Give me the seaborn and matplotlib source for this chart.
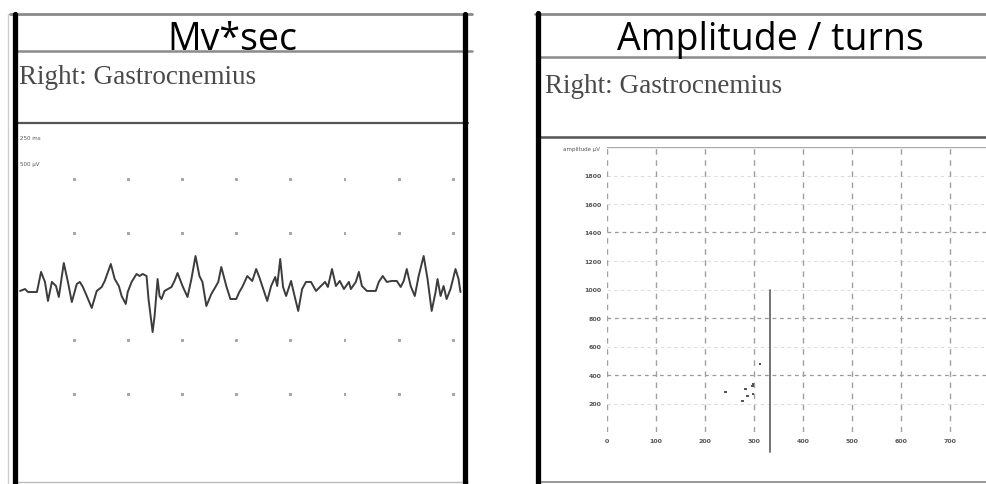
import numpy as np
import pandas as pd
import matplotlib
matplotlib.use("Agg")
import matplotlib.pyplot as plt
from matplotlib.lines import Line2D
import seaborn as sns

# ---------------- data ----------------
# Left panel: EMG trace (time in ms, amplitude in µV)
trace_t = [0, 23, 37, 78, 97, 115, 129, 147, 166, 179, 202, 221, 239, 262, 276, 290, 308, 331,
           354, 377, 391, 419, 437, 456, 469, 488,
           497, 515, 538, 552, 566, 584, 593, 612, 621, 635, 644, 653, 667, 699, 713, 727, 750,
           773, 791, 810, 828, 842, 860, 883, 902, 915, 929, 952, 971, 998,
           1012, 1026, 1049, 1072, 1090, 1104, 1118, 1141, 1159, 1178, 1187, 1201, 1214, 1228,
           1251, 1265, 1284, 1302, 1320, 1343, 1366, 1389, 1408, 1421, 1440, 1458, 1476, 1495,
           1518, 1527, 1550, 1564, 1578, 1601, 1642, 1656, 1674, 1693, 1716, 1739, 1757, 1771,
           1785, 1803, 1822, 1840, 1863, 1881, 1900, 1918, 1927, 1941, 1955, 1969, 1987, 2010,
           2024, 2033]
trace_uv = [-37, -19, -47, -47, 140, 47, -130, 47, 9, -93, 223, 47, -140, 28, 47, 0, -84, -195,
            -37, 0, 56, 214, 74, 9, -84, -158,
            -47, 47, 121, 102, 121, 102, -112, -419, -270, 74, -84, -112, -37, 0, 56, 130, 9,
            -93, 74, 288, 102, 47, -177, -65, 0, 47, 186, 9, -112, -112,
            -47, 0, 102, 56, 167, 93, 9, -130, 9, 93, 9, 260, 0, -84,
            56, -65, -223, -19, 47, 47, -37, 9, 47, 0, 167, 9, 56, -19,
            47, -19, 47, 140, 9, -37, -37, 47, 102, 47, 56, 56, 0, 56,
            167, 9, -84, 102, 288, 74, -223, -47, 74, -84, 9, -112, -19, 167,
            74, -47]
grid_t = [250, 500, 750, 1000, 1250, 1500, 1750, 2000]
grid_uv = [1000, 500, -500, -1000]
sweep_label = "250 ms"
gain_label = "500 µV"

# Right panel: amplitude vs turns
turns_x = [241, 282, 286, 296, 298, 276, 312, 298]
amp_y = [281, 302, 253, 323, 267, 218, 477, 337]
mean_line_x = 333
mean_line_top = 1000
mean_line_bottom = -140
x_ticks = [0, 100, 200, 300, 400, 500, 600, 700]
y_ticks = [200, 400, 600, 800, 1000, 1200, 1400, 1600, 1800]
emphasized_levels = [400, 800, 1400]

left_title = "Mv*sec"
right_title = "Amplitude / turns"
muscle = "Right: Gastrocnemius"
y_axis_title = "amplitude µV"

# ---------------- figure ----------------
sns.set_style("white")
plt.rcParams['font.family'] = ['DejaVu Sans']

W, H = 986, 485
fig = plt.figure(figsize=(W / 100, H / 100), dpi=100)

def fx(px):
    return px / W

def fy(py):
    return 1 - py / H

def hline(y, x0, x1, color="#8a8a8a", lw=1.6):
    fig.add_artist(Line2D([fx(x0), fx(x1)], [fy(y), fy(y)], color=color, lw=lw))

def vline(x, y0, y1, color="black", lw=3.8):
    fig.add_artist(Line2D([fx(x), fx(x)], [fy(y0), fy(y1)], color=color, lw=lw))

# ---- Left panel frame ----
hline(15, 10, 472, lw=2.0)
hline(52, 14, 472, lw=1.8)
hline(124, 14, 468, color="#555555", lw=1.6)
hline(483, 14, 468, color="#bbbbbb", lw=1.0)
vline(8, 15, 485, color="#cfcfcf", lw=1.0)
vline(15, 15, 485)
vline(465, 15, 485)

fig.text(fx(232), fy(50), left_title, ha="center", va="baseline",
         fontsize=27, family="Open Sans", color="black")
fig.text(fx(19), fy(84), muscle, ha="left", va="baseline",
         fontsize=19.5, family="Liberation Serif", color="#4a4a4a")

axL = fig.add_axes([fx(17), fy(483), fx(462) - fx(17), fy(125) - fy(483)])
gx, gy = np.meshgrid(grid_t, grid_uv)
sns.scatterplot(x=gx.ravel(), y=gy.ravel(), ax=axL, marker="s", s=4,
                color="#a8a8a8", edgecolor="none", legend=False)
sns.lineplot(x=trace_t, y=trace_uv, ax=axL, color="#3c3c3c", lw=1.4,
             sort=False, estimator=None)
axL.set_xlim(-14, 2040)
axL.set_ylim(-1814, 1516)
axL.axis("off")
fig.text(fx(20), fy(140), sweep_label, fontsize=4, color="#555555", va="baseline")
fig.text(fx(20), fy(166), gain_label, fontsize=4, color="#555555", va="baseline")

# ---- Right panel frame ----
hline(15, 535, 986, lw=2.0)
hline(58, 538, 986, lw=1.8)
hline(138, 538, 986, color="#555555", lw=1.8)
hline(483, 538, 986, color="#999999", lw=1.4)
vline(538, 14, 485)

fig.text(fx(770), fy(50), right_title, ha="center", va="baseline",
         fontsize=27, family="Open Sans", color="black")
fig.text(fx(545), fy(93), muscle, ha="left", va="baseline",
         fontsize=19.5, family="Liberation Serif", color="#4a4a4a")

axR = fig.add_axes([fx(607), fy(433), fx(986) - fx(607), fy(148) - fy(433)])
axR.set_xlim(0, 773)
axR.set_ylim(0, 2000)
for yv in y_ticks:
    if yv in emphasized_levels:
        axR.axhline(yv, color="#9a9a9a", lw=0.9, ls=(0, (3, 3)), zorder=1)
    else:
        axR.axhline(yv, color="#dddddd", lw=0.8, ls=(0, (3, 3)), zorder=1)
for xv in x_ticks:
    axR.axvline(xv, color="#a0a0a0", lw=1.0, ls=(0, (4, 4)), zorder=1)
axR.axhline(2000, color="#aaaaaa", lw=1.0, zorder=1)

sns.scatterplot(x=turns_x, y=amp_y, ax=axR, marker="s", s=4, color="#555555",
                edgecolor="none", legend=False, zorder=3)
sns.lineplot(x=[mean_line_x, mean_line_x], y=[mean_line_top, mean_line_bottom], ax=axR,
             color="#6a6a6a", lw=1.3, estimator=None, sort=False)
axR.lines[-1].set_clip_on(False)

axR.set_xticks(x_ticks)
axR.set_yticks(y_ticks)
axR.set_xticklabels([str(v) for v in x_ticks], fontsize=4.5, color="#555555",
                    fontweight="bold")
axR.set_yticklabels([str(v) for v in y_ticks], fontsize=4.5, color="#555555",
                    fontweight="bold")
axR.tick_params(length=0, pad=4)
for s in axR.spines.values():
    s.set_visible(False)
axR.set_xlabel("")
axR.set_ylabel("")
fig.text(fx(600), fy(150), y_axis_title, ha="right", va="center",
         fontsize=4, color="#555555")

fig.savefig("out.png", dpi=100)
